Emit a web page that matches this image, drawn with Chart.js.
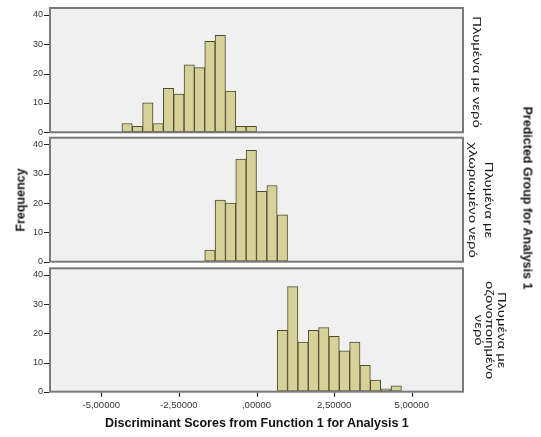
<!DOCTYPE html>
<html><head><meta charset="utf-8">
<script src="https://cdn.jsdelivr.net/npm/chart.js@4/dist/chart.umd.min.js"></script>
<style>
html,body{margin:0;padding:0;background:#fff;width:541px;height:437px;overflow:hidden;font-family:'Liberation Sans',Arial,sans-serif;}
.box{position:absolute;left:0;width:541px;}
.lbl{position:absolute;white-space:nowrap;color:#1a1a1a;text-align:center;}
.bold{font-weight:bold;font-size:12.5px;line-height:14px;color:#111;}
.grp{font-size:11px;line-height:12px;}
</style></head><body>
<div class="box" style="top:0;height:142px"><canvas id="c1"></canvas></div>
<div class="box" style="top:130px;height:142px"><canvas id="c2"></canvas></div>
<div class="box" style="top:260px;height:177px"><canvas id="c3"></canvas></div>
<div id="labels"></div>
<script>
// ---- data ----
const binCentersWater = [-4.1667,-3.8333,-3.5,-3.1667,-2.8333,-2.5,-2.1667,-1.8333,-1.5,-1.1667,-0.8333,-0.5,-0.1667];
const countsWater = [3,2,10,3,15,13,23,22,31,33,14,2,2];
const binCentersChlorinated = [-1.5,-1.1667,-0.8333,-0.5,-0.1667,0.1667,0.5,0.8333];
const countsChlorinated = [4,21,20,35,38,24,26,16];
const binCentersOzonated = [0.8333,1.1667,1.5,1.8333,2.1667,2.5,2.8333,3.1667,3.5,3.8333,4.1667,4.5];
const countsOzonated = [21,36,17,21,22,19,14,17,9,4,1,2];
const xTickValues = [-5,-2.5,0,2.5,5];
const xTickLabels = ['-5,00000','-2,50000',',00000','2,50000','5,00000'];
const yTickValues = [0,10,20,30,40];
const groupLabels = [['Πλυμένα με νερό'], ['Πλυμένα με','χλωριωμένο νερό'], ['Πλυμένα με','οζονοποιημένο','νερό']];
const xTitle = 'Discriminant Scores from Function 1 for Analysis 1';
const yTitle = 'Frequency';
const panelTitle = 'Predicted Group for Analysis 1';

const FONT = "'Liberation Sans', Arial, sans-serif";
const framePlugin = {
  id: 'frame',
  beforeDatasetsDraw(chart) {
    const a = chart.chartArea, ctx = chart.ctx;
    ctx.save(); ctx.fillStyle = '#f0f0f0';
    ctx.fillRect(a.left, a.top, a.right - a.left, a.bottom - a.top);
    ctx.restore();
  },
  afterDraw(chart) {
    const ctx = chart.ctx, c = chart.chartArea;
    ctx.save();
    ctx.globalAlpha = 1; ctx.setLineDash([]);
    ctx.strokeStyle = '#7a7a7a'; ctx.lineWidth = 2;
    ctx.strokeRect(c.left, c.top, c.right - c.left, c.bottom - c.top);
    // tick marks outside the frame, positioned by the chart's own scales
    ctx.strokeStyle = '#222'; ctx.lineWidth = 1.2;
    ctx.beginPath();
    const ys = chart.scales.y;
    ys.ticks.forEach(t => {
      const p = Math.round(ys.getPixelForValue(t.value)) + 0.5;
      ctx.moveTo(c.left - 6, p); ctx.lineTo(c.left - 1, p);
    });
    const xs = chart.scales.x;
    if (xs.options.display) {
      xs.ticks.forEach(t => {
        const p = Math.round(xs.getPixelForValue(t.value)) + 0.5;
        ctx.moveTo(p, c.bottom + 1); ctx.lineTo(p, c.bottom + 5);
      });
    }
    ctx.stroke();
    ctx.restore();
  }
};

function makeChart(id, centers, counts, padTop, padBottom, showX) {
  return new Chart(document.getElementById(id), {
    type: 'bar',
    data: { datasets: [{
      data: centers.map((x, i) => ({ x: x, y: counts[i] })),
      backgroundColor: '#d6d199', borderColor: '#4e4b2c', borderWidth: 1,
      borderSkipped: false, barPercentage: 1, categoryPercentage: 1
    }]},
    options: {
      responsive: true, maintainAspectRatio: false, animation: false,
      layout: { padding: { top: padTop, bottom: padBottom, left: 0, right: 78 } },
      plugins: { legend: { display: false }, tooltip: { enabled: false } },
      scales: {
        x: {
          type: 'linear', min: -6.65, max: 6.65, display: showX, offset: false,
          afterBuildTicks: s => { s.ticks = xTickValues.map(v => ({ value: v })); },
          afterFit: s => { if (showX) s.height = 22; },
          grid: { display: true, offset: false, drawOnChartArea: false, drawTicks: true, tickLength: 5, color: 'rgba(0,0,0,0)' },
          border: { display: false },
          ticks: { callback: v => xTickLabels[xTickValues.indexOf(v)], font: { size: 9.5, family: FONT }, color: '#333', padding: 3, maxRotation: 0, autoSkip: false }
        },
        y: {
          min: 0, max: 42.3,
          afterBuildTicks: s => { s.ticks = yTickValues.map(v => ({ value: v })); },
          afterFit: s => { s.width = 50; },
          grid: { display: true, offset: false, drawOnChartArea: false, drawTicks: true, tickLength: 5, color: 'rgba(0,0,0,0)' },
          border: { display: false },
          ticks: { font: { size: 9, family: FONT }, color: '#333', padding: 2 }
        }
      }
    },
    plugins: [framePlugin]
  });
}
makeChart('c1', binCentersWater, countsWater, 8, 9.7, false);
makeChart('c2', binCentersChlorinated, countsChlorinated, 7.7, 10.3, false);
makeChart('c3', binCentersOzonated, countsOzonated, 8.3, 23.3, true);

// ---- text labels ----
const L = document.getElementById('labels');
function addLabel(html, cls, cx, cy, rot, sx, lh) {
  const d = document.createElement('div');
  d.className = 'lbl ' + cls; d.innerHTML = html;
  if (lh) d.style.lineHeight = lh + 'px';
  L.appendChild(d);
  const w = d.offsetWidth, h = d.offsetHeight;
  d.style.left = (cx - w / 2) + 'px'; d.style.top = (cy - h / 2) + 'px';
  d.style.transform = 'rotate(' + rot + 'deg) scale(' + (sx || 1) + ',1)';
}
addLabel(xTitle, 'bold', 257, 423, 0);
addLabel(yTitle, 'bold', 20, 200, -90);
addLabel(panelTitle, 'bold', 527, 198, 90);
const centersY = [72, 200, 330];
const centersX = [477, 481, 489];
const lineHeights = [12, 16, 11.5];
groupLabels.forEach((lines, i) => addLabel(lines.join('<br>'), 'grp', centersX[i], centersY[i], 90, 1.35, lineHeights[i]));
</script>
</body></html>
